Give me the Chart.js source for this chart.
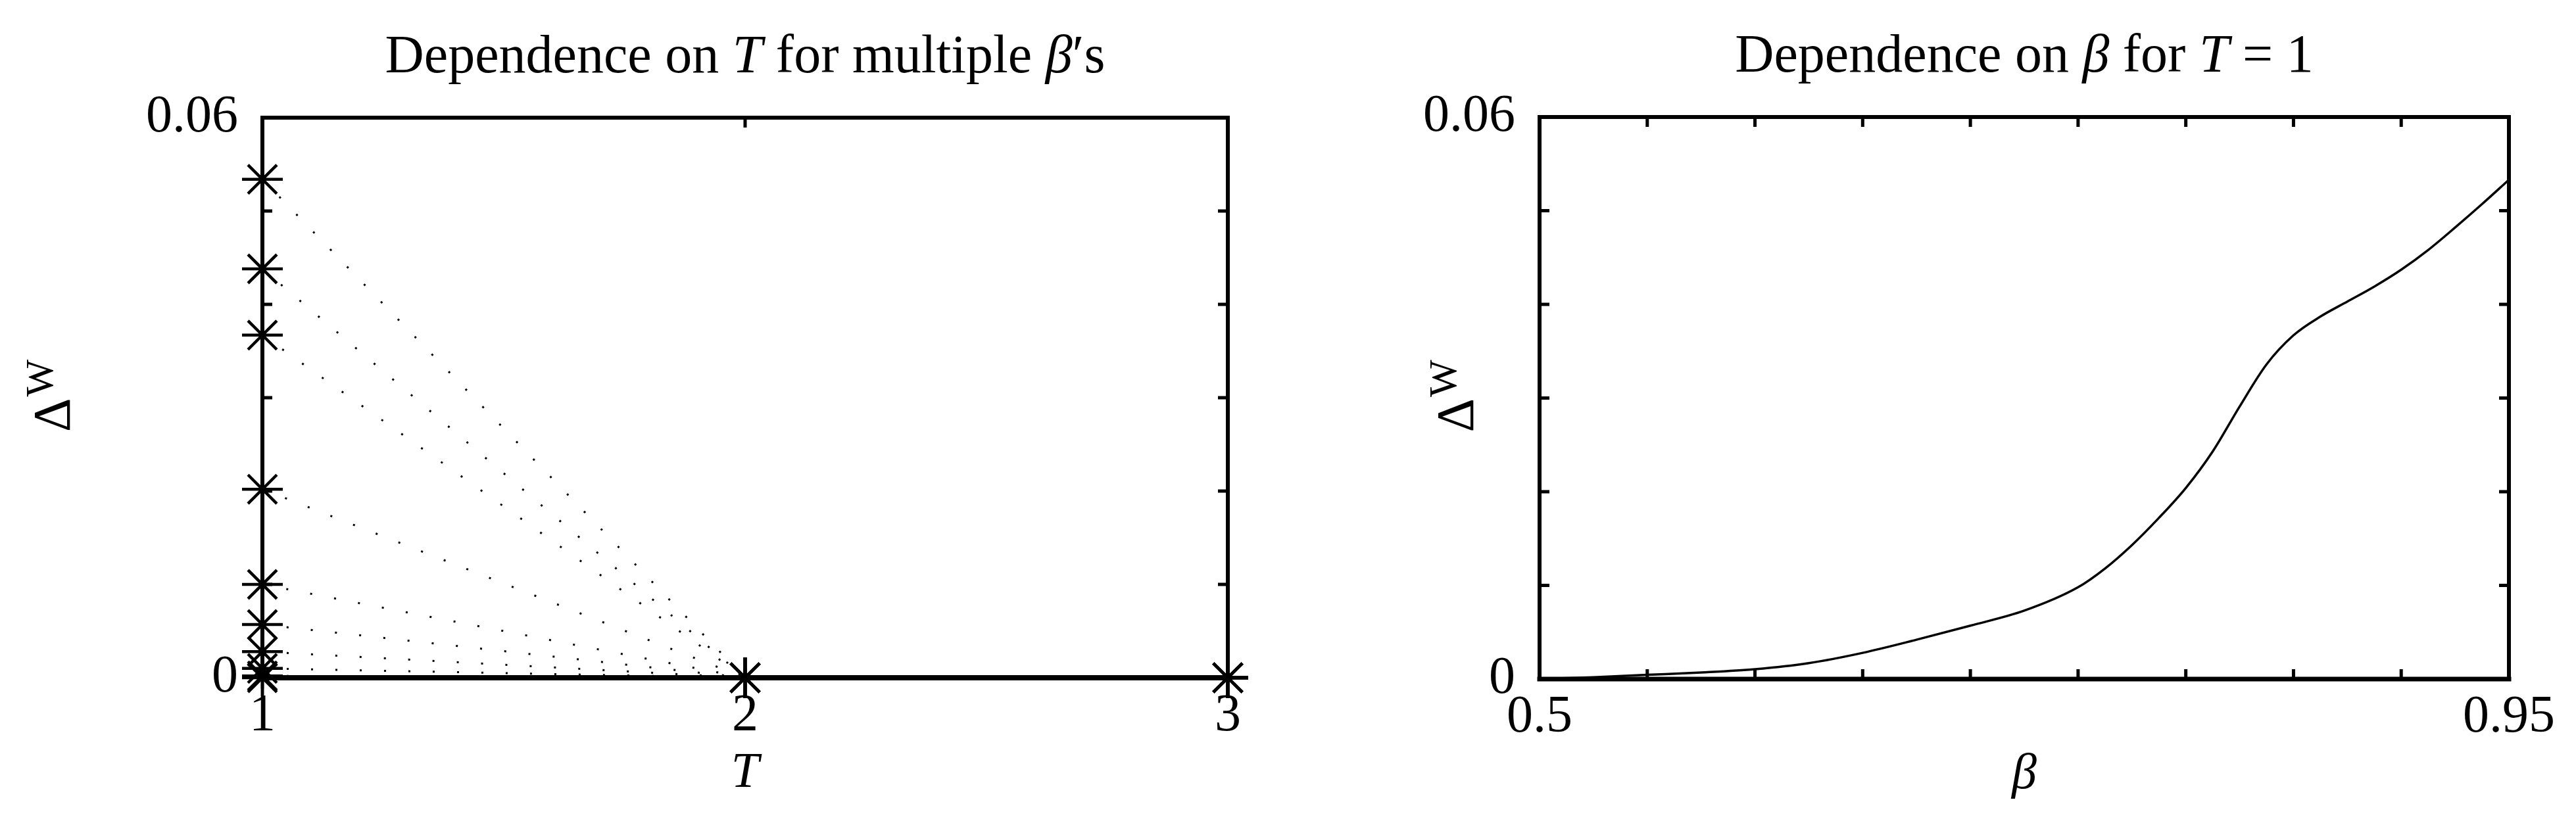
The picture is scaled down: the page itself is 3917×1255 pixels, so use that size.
<!DOCTYPE html>
<html>
<head>
<meta charset="utf-8">
<script src="https://cdn.jsdelivr.net/npm/chart.js@4.4.1/dist/chart.umd.min.js"></script>
<style>
    html, body { margin: 0; padding: 0; background: #fff; }
    body { width: 3917px; height: 1255px; position: relative; overflow: hidden; }
    .panel { position: absolute; top: 0; height: 1255px; }
    #left-panel { left: 0; width: 1960px; }
    #right-panel { left: 1960px; width: 1957px; }
</style>
</head>
<body>
<div class="panel" id="left-panel"><canvas id="chart-t"></canvas></div>
<div class="panel" id="right-panel"><canvas id="chart-beta"></canvas></div>
<script>
// values
const tValues = [1, 2, 3];
const betaValues = [0.5, 0.55, 0.6, 0.65, 0.7, 0.75, 0.8, 0.85, 0.9, 0.95];
const deltaAtT1 = [0, 0.0002, 0.0010, 0.0028, 0.0057, 0.0100, 0.0202, 0.0367, 0.0438, 0.0534];
const deltaAtT2 = [0, 0, 0, 0, 0, 0, 0, 0, 0, 0];
const deltaAtT3 = [0, 0, 0, 0, 0, 0, 0, 0, 0, 0];

// right panel: T = 1, finer beta grid
const betaGrid = [0.5, 0.525, 0.55, 0.575, 0.6, 0.625, 0.65, 0.675, 0.7, 0.725, 0.75, 0.7625, 0.775, 0.7875,
    0.8, 0.8125, 0.825, 0.8375, 0.85, 0.8625, 0.875, 0.8875, 0.9, 0.9125, 0.925, 0.9375, 0.95];
const deltaCurve = [0, 0.0002, 0.00045, 0.0007, 0.00105, 0.0017, 0.0028, 0.0042, 0.0057, 0.0073, 0.0098, 0.0118, 0.0143, 0.0172,
    0.0204, 0.0243, 0.0291, 0.0336, 0.0367, 0.0387, 0.0403, 0.0419, 0.0437, 0.0458, 0.0482, 0.0507, 0.0533];

const yTickLabels = ['0', '0.06'];
const tTickLabels = ['1', '2', '3'];
const betaTickLabels = ['0.5', '0.95'];

const FONT = '"Liberation Serif", "DejaVu Serif", serif';
Chart.defaults.font.family = FONT;
Chart.defaults.color = '#000';

function onlyLabels(list) {
    return function(value) {
        const s = String(+Number(value).toFixed(4));
        return list.includes(s) ? s : '';
    };
}

// title with italic math bits, drawn centred over the plot
function drawRich(ctx, parts, cx, baseline, size) {
    let total = 0;
    parts.forEach(p => {
        ctx.font = (p[1] ? 'italic ' : '') + size + 'px ' + FONT;
        total += ctx.measureText(p[0]).width;
    });
    let x = cx - total / 2;
    ctx.textAlign = 'left';
    ctx.textBaseline = 'alphabetic';
    parts.forEach(p => {
        ctx.font = (p[1] ? 'italic ' : '') + size + 'px ' + FONT;
        ctx.fillText(p[0], x, baseline);
        x += ctx.measureText(p[0]).width;
    });
}

const matlabAxes = {
    id: 'matlabAxes',
    afterDatasetsDraw(chart, args, opts) {
        const ctx = chart.ctx;
        const a = chart.chartArea;
        const xs = chart.scales.x, ys = chart.scales.y;
        ctx.save();
        ctx.fillStyle = '#000';
        ctx.strokeStyle = '#000';

        // inward ticks
        ctx.lineWidth = 5;
        ctx.beginPath();
        xs.ticks.forEach(t => {
            const px = xs.getPixelForValue(t.value);
            if (px <= a.left + 2 || px >= a.right - 2) return;
            ctx.moveTo(px, a.bottom); ctx.lineTo(px, a.bottom - 15);
            ctx.moveTo(px, a.top); ctx.lineTo(px, a.top + 15);
        });
        ys.ticks.forEach(t => {
            const py = ys.getPixelForValue(t.value);
            if (py <= a.top + 2 || py >= a.bottom - 2) return;
            ctx.moveTo(a.left, py); ctx.lineTo(a.left + 15, py);
            ctx.moveTo(a.right, py); ctx.lineTo(a.right - 15, py);
        });
        ctx.stroke();

        // box
        ctx.lineWidth = 6;
        ctx.lineCap = 'square';
        ctx.beginPath();
        ctx.moveTo(a.left, a.bottom); ctx.lineTo(a.left, a.top);
        ctx.lineTo(a.right, a.top); ctx.lineTo(a.right, a.bottom);
        ctx.stroke();
        ctx.lineWidth = opts.bottomWidth || 6;
        ctx.beginPath();
        ctx.moveTo(a.left, a.bottom); ctx.lineTo(a.right, a.bottom);
        ctx.stroke();

        // titles
        const cx = (a.left + a.right) / 2;
        drawRich(ctx, opts.title, cx, a.top - 69, 82);
        ctx.font = 'italic 76px ' + FONT;
        ctx.textAlign = 'center';
        ctx.textBaseline = 'alphabetic';
        ctx.fillText(opts.xTitle, cx, a.bottom + 166);

        // Delta^W, rotated
        ctx.translate(a.left + opts.yTitleOffset, (a.top + a.bottom) / 2 + 52);
        ctx.rotate(-Math.PI / 2);
        ctx.textAlign = 'left';
        ctx.font = '80px ' + FONT;
        ctx.fillText('Δ', 0, 0);
        const w = ctx.measureText('Δ').width;
        ctx.font = '60px ' + FONT;
        ctx.fillText('W', w + 2, -26);
        ctx.restore();
    }
};

function axisOptions(min, max, step, labels, extra) {
    return Object.assign({
        type: 'linear',
        min: min,
        max: max,
        grid: { display: false, drawTicks: false },
        border: { display: false },
        ticks: {
            stepSize: step,
            autoSkip: false,
            maxRotation: 0,
            font: { size: 80 },
            color: '#000',
            callback: onlyLabels(labels)
        }
    }, extra);
}

// left: dependence on T
const tDatasets = betaValues.map((b, i) => ({
    label: 'beta = ' + b,
    data: tValues.map((t, j) => ({ x: t, y: [deltaAtT1, deltaAtT2, deltaAtT3][j][i] })),
    borderColor: '#000',
    borderWidth: 3,
    borderDash: [3, 34],
    pointStyle: 'star',
    pointRadius: 31,
    pointBorderWidth: 4.5,
    pointBorderColor: '#000',
    clip: false,
    tension: 0
}));

const leftX = axisOptions(1, 3, 1, tTickLabels, { afterFit: s => { s.height = 224; } });
leftX.ticks.padding = 11;
const leftY = axisOptions(0, 0.06, 0.01, yTickLabels, { afterFit: s => { s.width = 399; } });
leftY.ticks.padding = 37;

new Chart(document.getElementById('chart-t'), {
    type: 'line',
    data: { datasets: tDatasets },
    options: {
        responsive: true,
        maintainAspectRatio: false,
        animation: false,
        devicePixelRatio: 1,
        layout: { padding: { top: 179, right: 93, left: 0, bottom: 0 } },
        scales: { x: leftX, y: leftY },
        plugins: {
            legend: { display: false },
            tooltip: { enabled: false },
            matlabAxes: {
                title: [['Dependence on ', false], ['T', true], [' for multiple ', false], ['β', true], ['′s', false]],
                xTitle: 'T',
                yTitleOffset: -293,
                bottomWidth: 8
            }
        }
    },
    plugins: [matlabAxes]
});

// right: dependence on beta for T = 1
const rightX = axisOptions(0.5, 0.95, 0.05, betaTickLabels, { afterFit: s => { s.height = 222; } });
rightX.ticks.padding = 11;
const rightY = axisOptions(0, 0.06, 0.01, yTickLabels, { afterFit: s => { s.width = 381; } });
rightY.ticks.padding = 37;

new Chart(document.getElementById('chart-beta'), {
    type: 'line',
    data: {
        datasets: [{
            label: 'T = 1',
            data: betaGrid.map((b, i) => ({ x: b, y: deltaCurve[i] })),
            borderColor: '#000',
            borderWidth: 3.5,
            pointRadius: 0,
            cubicInterpolationMode: 'monotone'
        }]
    },
    options: {
        responsive: true,
        maintainAspectRatio: false,
        animation: false,
        devicePixelRatio: 1,
        layout: { padding: { top: 178, right: 102, left: 0, bottom: 0 } },
        scales: { x: rightX, y: rightY },
        plugins: {
            legend: { display: false },
            tooltip: { enabled: false },
            matlabAxes: {
                title: [['Dependence on ', false], ['β', true], [' for ', false], ['T', true], [' = 1', false]],
                xTitle: 'β',
                yTitleOffset: -101,
                bottomWidth: 7
            }
        }
    },
    plugins: [matlabAxes]
});
</script>
</body>
</html>
